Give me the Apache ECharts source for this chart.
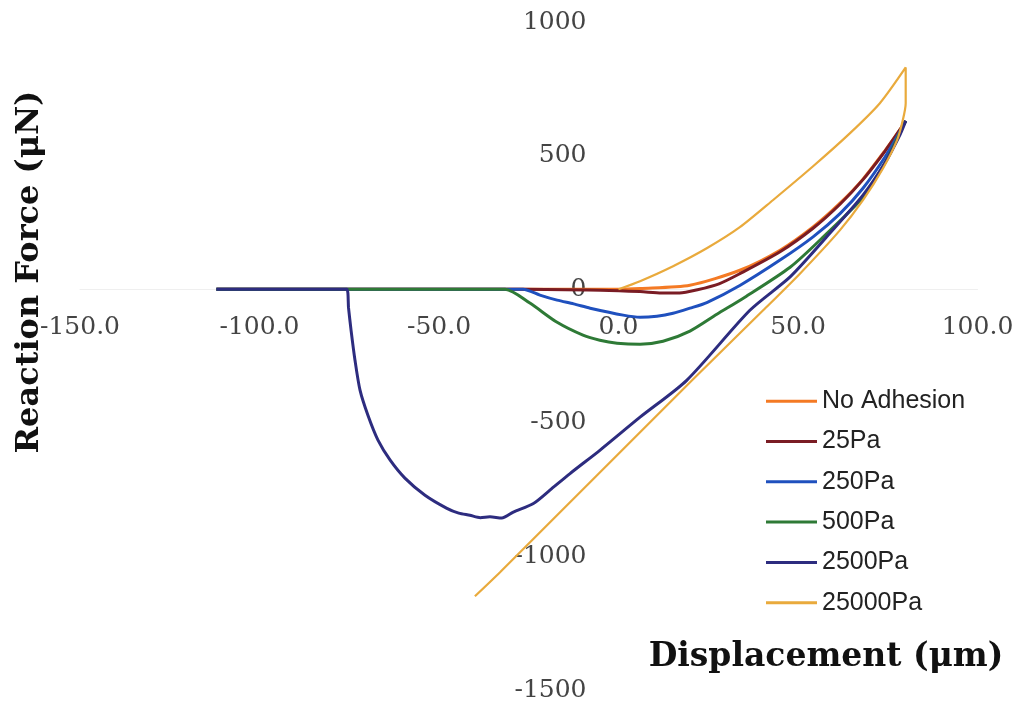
<!DOCTYPE html>
<html>
<head>
<meta charset="utf-8">
<script src="https://cdn.jsdelivr.net/npm/echarts@6/dist/echarts.min.js"></script>
<style>
  html, body { margin: 0; padding: 0; background: #ffffff; }
  #chart { width: 1018px; height: 704px; }
</style>
</head>
<body>
<div id="chart"></div>
<script>
// Force–displacement loops for a probe under different adhesion strengths
// x: displacement (µm), y: reaction force (µN)
const seriesNames = ['No Adhesion', '25Pa', '250Pa', '500Pa', '2500Pa', '25000Pa'];

const noAdhesion = [
  [-112, 0], [0, 0], [6, 3], [19.9, 15], [33.8, 71], [45, 146], [54.2, 233],
  [61.7, 322], [68.1, 412], [74.2, 518], [78.4, 597], [80, 630]
];

const pa25 = [
  [-112, 0], [-26.6, 0], [-5, -4], [6, -9], [12, -14], [17, -14], [22, -2],
  [28, 20], [33.8, 58], [45, 140], [54.2, 228], [61.7, 318], [68.1, 410],
  [74.2, 516], [78.4, 597], [80, 630]
];

const pa250 = [
  [-112, 0], [-26.6, 0], [-21.9, -22], [-17.1, -41], [-12.5, -55], [-7.9, -71],
  [1.3, -97], [6, -105], [10.7, -101], [15.2, -90], [19.9, -71], [24.6, -50],
  [33.8, 14], [45, 109], [54.2, 196], [61.7, 283], [68.1, 378], [74.2, 494],
  [78.4, 590], [80, 630]
];

const pa500 = [
  [-112, 0], [-31.6, 0], [-24.7, -52], [-17.1, -124], [-9.9, -172], [-5.2, -191],
  [-0.4, -202], [6, -206], [12.4, -195], [19.9, -157], [27.4, -94], [35.2, -30],
  [47.8, 82], [57, 195], [68.1, 344], [74.2, 472], [78.4, 586], [80, 630]
];

const pa2500 = [
  [-112, 0], [-75.7, 0], [-75.2, -70], [-74.5, -153], [-73.4, -266], [-72, -378],
  [-69.8, -472], [-67, -565], [-63.6, -640], [-59.5, -707], [-53.9, -771],
  [-47.8, -820], [-44.5, -838], [-41.4, -846], [-38.5, -855], [-35.8, -852],
  [-32.5, -856], [-29.3, -834], [-23.7, -802], [-19.1, -752], [-13.5, -690],
  [-5.2, -603], [6, -479], [19, -341], [36.6, -79], [47.8, 46], [58, 196],
  [68.1, 352], [74.2, 472], [78.4, 578], [80, 630]
];

const pa25000 = [
  [0, 0], [6, 30], [15.2, 86], [24.7, 154], [33.8, 232], [43, 333], [54.2, 460],
  [64.5, 584], [72.8, 696], [80, 830], [80, 696], [79.2, 633], [77.6, 558],
  [73.7, 453], [68.1, 333], [61.7, 221], [50.6, 59], [40.3, -79], [20.5, -341],
  [-33, -1059], [-40, -1149]
];

const seriesData = [noAdhesion, pa25, pa250, pa500, pa2500, pa25000];
const seriesColors = ['#F47A24', '#7A1C24', '#1F50BE', '#2E7A36', '#2D2C7F', '#E9AA3C'];
const seriesWidths = [3, 3, 3, 3, 3, 2.2];

// plot box and axis ranges; the axes cross at the origin
const GRID = { left: 80, right: 40.5, top: 22, bottom: 14 };
const X_MIN = -150, X_MAX = 100, Y_MIN = -1500, Y_MAX = 1000;
const plotW = 1018 - GRID.left - GRID.right;
const plotH = 704 - GRID.top - GRID.bottom;
const xAxisOffset = -plotH * (0 - Y_MIN) / (Y_MAX - Y_MIN);
const yAxisOffset = -plotW * (0 - X_MIN) / (X_MAX - X_MIN);

const chart = echarts.init(document.getElementById('chart'), null, { renderer: 'canvas' });

const serifFont = '"DejaVu Serif", "Liberation Serif", serif';

chart.setOption({
  backgroundColor: '#ffffff',
  animation: false,
  grid: Object.assign({ containLabel: false, outerBoundsMode: 'none' }, GRID),
  xAxis: {
    type: 'value',
    position: 'bottom',
    offset: xAxisOffset,
    min: X_MIN, max: X_MAX, interval: 50,
    axisLine: { onZero: false, lineStyle: { color: '#efefef', width: 1 } },
    axisTick: { show: false },
    splitLine: { show: false },
    axisLabel: {
      margin: 26,
      fontFamily: serifFont, fontSize: 25, color: '#444444',
      formatter: v => v.toFixed(1)
    }
  },
  yAxis: {
    type: 'value',
    position: 'left',
    offset: yAxisOffset,
    min: Y_MIN, max: Y_MAX, interval: 500,
    axisLine: { show: false, onZero: false },
    axisTick: { show: false },
    splitLine: { show: false },
    axisLabel: {
      margin: 32,
      fontFamily: serifFont, fontSize: 25, color: '#444444',
      formatter: v => String(v)
    }
  },
  legend: {
    orient: 'vertical',
    left: 766, top: 388.7,
    padding: 0,
    icon: 'rect',
    itemWidth: 51, itemHeight: 3,
    itemGap: 15.3,
    data: seriesNames,
    textStyle: { fontFamily: '"Liberation Sans", Arial, sans-serif', fontSize: 25, lineHeight: 24, color: '#222222' }
  },
  graphic: [
    {
      type: 'text', x: 30, y: 272, rotation: Math.PI / 2, z: 100,
      style: {
        text: 'Reaction Force (μN)', textAlign: 'center', textVerticalAlign: 'middle',
        font: 'bold 32px "DejaVu Serif", serif', fill: '#111111'
      }
    },
    {
      type: 'text', x: 826, y: 657, z: 100,
      style: {
        text: 'Displacement (μm)', textAlign: 'center', textVerticalAlign: 'middle',
        font: 'bold 33px "DejaVu Serif", serif', fill: '#111111'
      }
    }
  ],
  series: seriesNames.map((name, i) => ({
    name,
    type: 'line',
    data: seriesData[i],
    showSymbol: false,
    symbol: 'none',
    smooth: 0.25,
    color: seriesColors[i],
    lineStyle: { color: seriesColors[i], width: seriesWidths[i] },
    z: 2 + i
  }))
});
</script>
</body>
</html>
